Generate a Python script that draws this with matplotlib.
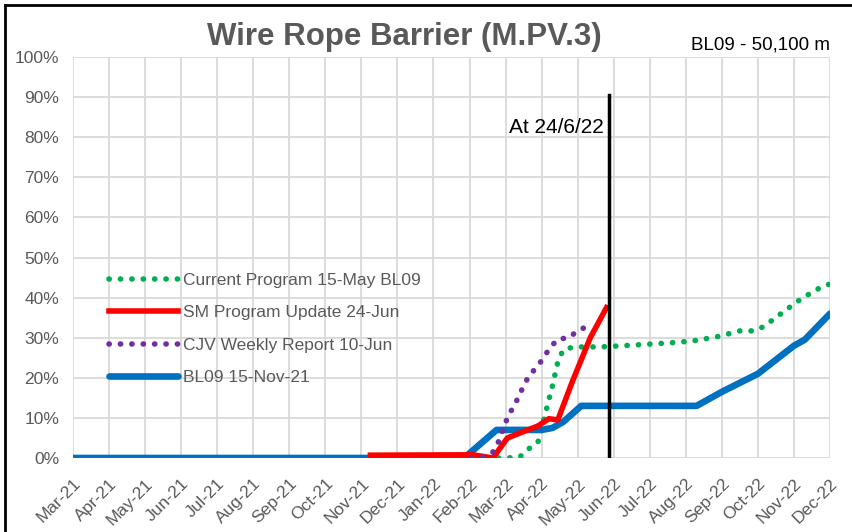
import matplotlib
matplotlib.use('Agg')
import matplotlib.pyplot as plt
from matplotlib.lines import Line2D

plt.rcParams['font.family'] = ['Liberation Sans', 'DejaVu Sans']

# month labels (x = month index from Mar-21)
months = ['Mar-21', 'Apr-21', 'May-21', 'Jun-21', 'Jul-21', 'Aug-21', 'Sep-21',
          'Oct-21', 'Nov-21', 'Dec-21', 'Jan-22', 'Feb-22', 'Mar-22', 'Apr-22',
          'May-22', 'Jun-22', 'Jul-22', 'Aug-22', 'Sep-22', 'Oct-22', 'Nov-22',
          'Dec-22']

# BL09 15-Nov-21 (baseline)
blue_x = [0, 10.85, 11.75, 13.0, 13.3, 13.6, 14.1, 17.3, 18.0, 19.0, 20.0, 20.3, 21.0]
blue_y = [0, 0, 7, 7, 7.5, 9, 13, 13, 16.5, 21, 28, 29.5, 36]

# SM Program Update 24-Jun
red_x = [8.25, 11.1, 11.65, 12.05, 12.9, 13.2, 13.45, 13.85, 14.35, 14.8]
red_y = [0.7, 0.8, 0, 5, 8, 9.8, 9.5, 19, 30, 37.5]

# CJV Weekly Report 10-Jun
purple_x = [11.05, 11.4, 11.65, 11.8, 12.05, 12.2, 12.35, 12.5, 12.65, 12.9,
            13.05, 13.25, 13.45, 13.75, 14.0, 14.3]
purple_y = [0, 0.3, 1.5, 4, 10, 12.5, 15, 18, 20.5, 23, 25, 27.7, 29.6, 30,
            31.7, 33]

# Current Program 15-May BL09
green_x = [11.8, 12.05, 12.4, 12.6, 12.9, 13.15, 13.3, 13.45, 13.6, 13.9, 14.6,
           15.25, 16.55, 17.2, 17.85, 18.5, 18.85, 19.15, 19.7, 20.2, 20.75, 21.0]
green_y = [0, 0, 0.3, 2, 4, 12.7, 18, 24, 27, 27.7, 27.7, 28, 28.7, 29.2, 30.2,
           31.7, 31.7, 32.7, 36.4, 39.7, 42.6, 43.4]

status_x = 14.87   # "At 24/6/22" marker
status_top = 90.5

grey = '#595959'
dots = (0, (0.05, 2.0))

fig = plt.figure(figsize=(8.52, 5.32), dpi=100)
ax = fig.add_axes([73/852, 1 - 458/532, (830-73)/852, (458-57)/532])

ax.plot(green_x, green_y, color='#00B050', lw=4, ls=dots, dash_capstyle='round')
ax.plot(blue_x, blue_y, color='#0070C0', lw=4.8, solid_capstyle='round', solid_joinstyle='round')
ax.plot(red_x, red_y, color='#FF0000', lw=4, solid_joinstyle='round')
ax.plot(purple_x, purple_y, color='#7030A0', lw=4, ls=dots, dash_capstyle='round')
ax.plot([status_x, status_x], [0, status_top], color='black', lw=2.5)
ax.text(status_x - 0.15, 82.5, 'At 24/6/22', ha='right', va='center', fontsize=15, color='black')

ax.set_xlim(0, 21)
ax.set_ylim(0, 100)
ax.set_xticks(range(len(months)))
ax.set_xticklabels(months, rotation=45, ha='right', rotation_mode='anchor',
                   fontsize=12.5, color=grey)
ax.set_yticks(range(0, 101, 10))
ax.set_yticklabels([f'{v}%' for v in range(0, 101, 10)], fontsize=12.5, color=grey)
ax.tick_params(axis='both', length=0)
ax.tick_params(axis='x', pad=13)
ax.tick_params(axis='y', pad=10)
ax.grid(True, color='#d9d9d9', lw=1.3)
ax.set_axisbelow(True)
for s in ax.spines.values():
    s.set_visible(False)

handles = [
    Line2D([], [], color='#00B050', lw=4, ls=dots, dash_capstyle='round'),
    Line2D([], [], color='#FF0000', lw=4),
    Line2D([], [], color='#7030A0', lw=4, ls=dots, dash_capstyle='round'),
    Line2D([], [], color='#0070C0', lw=4.8, solid_capstyle='round'),
]
labels = ['Current Program 15-May BL09', 'SM Program Update 24-Jun',
          'CJV Weekly Report 10-Jun', 'BL09 15-Nov-21']
leg = ax.legend(handles, labels, loc='upper left', bbox_to_anchor=(0.038, 0.48),
                frameon=False, fontsize=12.5, handlelength=4.0, handletextpad=0.3,
                labelspacing=1.0, borderaxespad=0)
for t in leg.get_texts():
    t.set_color(grey)

fig.text(404/852, 1 - 37/532, 'Wire Rope Barrier (M.PV.3)', ha='center', va='center',
         fontsize=22.5, fontweight='bold', color=grey)
fig.text(830/852, 1 - 45/532, 'BL09 - 50,100 m', ha='right', va='center',
         fontsize=13.5, color='black')

# outer frame (top and left edge)
fig.add_artist(Line2D([5/852, 5/852], [0, 1 - 5/532], transform=fig.transFigure,
                      color='black', lw=2))
fig.add_artist(Line2D([5/852, 1], [1 - 5/532, 1 - 5/532], transform=fig.transFigure,
                      color='black', lw=2))

fig.savefig('out.png', dpi=100)
